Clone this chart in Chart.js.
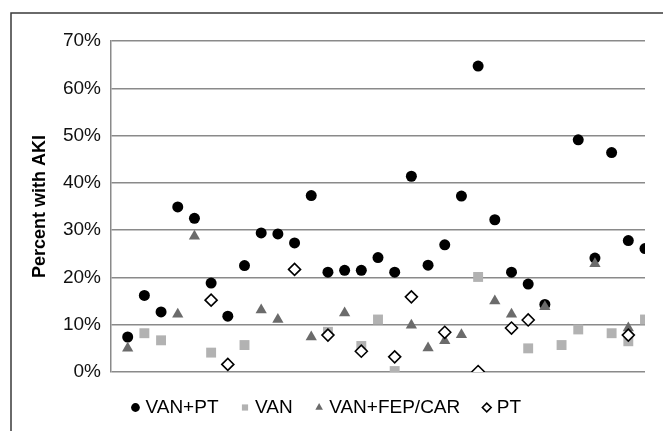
<!DOCTYPE html>
<html>
<head>
<meta charset="utf-8">
<script src="https://cdn.jsdelivr.net/npm/chart.js@4"></script>
<style>
  html, body { margin: 0; padding: 0; background: #fff; }
  #wrap { width: 663px; height: 431px; position: relative; }
</style>
</head>
<body>
<div id="wrap"><canvas id="akiChart"></canvas></div>
<script>
/* studies along the x axis (no labels shown in the figure) */
var studies = []
for (var s = 1; s <= 32; s++) studies.push('Study ' + s)

/* percent with AKI per study, null = group not reported */
var vanPt = [7.4, 16.2, 12.7, 34.9, 32.5, 18.8, 11.8, 22.5, 29.4, 29.2, 27.3, 37.3, 21.1, 21.5, 21.5, 24.2,
             21.1, 41.4, 22.6, 26.9, 37.2, 64.7, 32.2, 21.1, 18.6, 14.3, null, 49.1, 24.1, 46.4, 27.8, 26.1]
var van = [null, 8.2, 6.7, null, null, 4.1, null, 5.7, null, null, null, null, 8.5, null, 5.5, 11.1,
           0.2, null, null, null, null, 20.1, null, null, 5.0, null, 5.7, 9.0, null, 8.2, 6.5, 11.1]
var vanFepCar = [5.0, null, null, 12.2, 28.7, null, null, null, 13.1, 11.1, null, 7.4, null, 12.5, null, null,
                 null, 9.9, 5.1, 6.6, 7.9, null, 15.0, 12.2, null, 13.8, null, null, 22.9, null, 9.3, null]
var pt = [null, null, null, null, null, 15.2, 1.6, null, null, null, 21.7, null, 7.8, null, 4.4, null,
          3.2, 15.9, null, 8.4, null, 0.1, null, 9.3, 11.0, null, null, null, null, null, 7.8, null]

var yTicks = [0, 10, 20, 30, 40, 50, 60, 70]

/* turn a value list into scatter points, study n sits at x = n */
function toPoints(arr){
  var pts = []
  arr.forEach(function(v, i){
    if (v !== null) pts.push({x: i + 1, y: v})
  })
  return pts
}

/* frame around the whole figure (only top and left edges fall inside the picture) */
var framePlugin = {
  id: 'frame',
  afterDraw: function(chart){
    var ctx = chart.ctx
    ctx.save()
    ctx.strokeStyle = '#3a3a3a'
    ctx.lineWidth = 1.5
    ctx.strokeRect(11, 13, 700, 500)
    ctx.restore()
  }
}

const config = {
  type: 'scatter',
  data: {
    datasets: [{
      label: 'VAN+PT',
      data: toPoints(vanPt),
      pointStyle: 'circle',
      pointRadius: 5.5,
      backgroundColor: '#000',
      borderColor: '#000',
      borderWidth: 0,
      order: 4
    }, {
      label: 'VAN',
      data: toPoints(van),
      pointStyle: 'rect',
      pointRadius: 7,
      backgroundColor: '#b2b2b2',
      borderColor: '#b2b2b2',
      borderWidth: 0,
      order: 3
    }, {
      label: 'VAN+FEP/CAR',
      data: toPoints(vanFepCar),
      pointStyle: 'triangle',
      pointRadius: 6.5,
      backgroundColor: '#6b6b6b',
      borderColor: '#6b6b6b',
      borderWidth: 0,
      order: 2
    }, {
      label: 'PT',
      data: toPoints(pt),
      pointStyle: 'rectRot',
      pointRadius: 6,
      backgroundColor: '#fff',
      borderColor: '#000',
      borderWidth: 1.6,
      order: 1
    }]
  },
  options: {
    responsive: true,
    maintainAspectRatio: false,
    animation: false,
    layout: { padding: { left: 11, right: 18, top: 41, bottom: 4 } },
    plugins: {
      tooltip: { enabled: false },
      legend: {
        position: 'bottom',
        labels: {
          usePointStyle: true,
          boxHeight: 6.2,
          boxWidth: 1,
          padding: 26,
          color: '#000',
          sort: function(a, b){ return a.datasetIndex - b.datasetIndex },
          font: { family: '"Liberation Sans", Arial, sans-serif', size: 19 }
        }
      }
    },
    scales: {
      x: {
        type: 'linear',
        min: 0,
        max: studies.length,
        grid: { display: false },
        border: { display: false },
        ticks: { display: false },
        afterFit: function(scale){ scale.height = 0 }
      },
      y: {
        min: 0,
        max: 70,
        afterBuildTicks: function(scale){
          scale.ticks = yTicks.map(function(v){ return {value: v} })
        },
        afterFit: function(scale){ scale.width = 100 },
        grid: { color: '#8a8a8a', lineWidth: 1.5, drawTicks: false },
        border: { display: true, color: '#8a8a8a', width: 1.5 },
        ticks: {
          padding: 10,
          color: '#111',
          font: { family: '"Liberation Sans", Arial, sans-serif', size: 19 },
          callback: function(v){ return v + '%' }
        },
        title: {
          display: true,
          text: 'Percent with AKI',
          color: '#000',
          padding: { top: 18, bottom: 0 },
          font: { family: '"Liberation Sans", Arial, sans-serif', size: 18, weight: 'bold' }
        }
      }
    }
  },
  plugins: [framePlugin]
}

const akiChart = new Chart(document.getElementById('akiChart'), config)
</script>
</body>
</html>
